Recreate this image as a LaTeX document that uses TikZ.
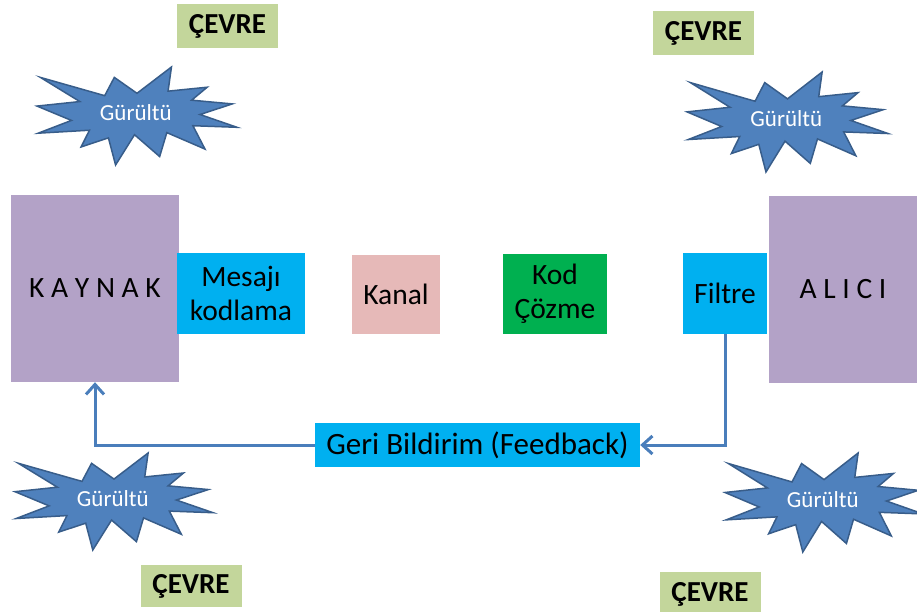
\documentclass[tikz,border=0pt]{standalone}
\usepackage{fontspec}
\setmainfont{Carlito}
\usetikzlibrary{arrows.meta}
\definecolor{mor}{HTML}{B3A2C7}
\definecolor{camgobegi}{HTML}{00B0F0}
\definecolor{pembe}{HTML}{E6B9B8}
\definecolor{yesil}{HTML}{00B050}
\definecolor{cevreyesil}{HTML}{C3D69B}
\definecolor{mavi}{HTML}{4F81BD}
\definecolor{koyumavi}{HTML}{385D8A}
\definecolor{okmavi}{HTML}{4A7EBB}

\tikzset{
  kutu/.style={inner sep=0pt, align=center, font=\fontsize{29.5}{34}\selectfont},
  cevre/.style={fill=cevreyesil, inner sep=0pt, minimum width=101pt, minimum height=44pt,
                font=\bfseries\fontsize{29}{30}\selectfont},
  patlama/.style={fill=mavi, draw=koyumavi, line width=1.5pt, line join=miter},
  gurultuyazi/.style={text=white, font=\fontsize{23}{24}\selectfont},
  geri/.style={draw=okmavi, line width=3pt, -{Straight Barb[length=10pt,width=18pt]}}
}

% Gürültü patlamasi: isim, sol, ust, genislik, yukseklik
\newcommand{\gurultu}[5]{%
  \begin{scope}[shift={(#2,#3)}, xscale=#4, yscale=#5]
    \draw[patlama] (0.5,0.2685) -- (0.6723,0) -- (0.6553,0.2465) -- (0.8509,0.2063)
      -- (0.7732,0.3387) -- (0.9767,0.3767) -- (0.8151,0.4850) -- (1,0.6153)
      -- (0.7795,0.5992) -- (0.8400,0.8377) -- (0.6491,0.6693) -- (0.6133,0.9138)
      -- (0.4876,0.6914) -- (0.3929,1) -- (0.3572,0.7235) -- (0.2205,0.8156)
      -- (0.2624,0.6452) -- (0.00625,0.6753) -- (0.1723,0.5451) -- (0,0.3988)
      -- (0.2142,0.3527) -- (0.0171,0.1063) -- (0.3385,0.2926) -- (0.3867,0.1063) -- cycle;
  \end{scope}
  \node[gurultuyazi] (#1) at ({#2+0.494*#4},{#3+0.469*#5}) {Gürültü};
}

\begin{document}
\begin{tikzpicture}[x=1pt, y=-1pt]
  \clip (0,0) rectangle (917,612);

  % cevre etiketleri
  \node[cevre] (cevre1) at (227.5,26.5) {ÇEVRE};
  \node[cevre] (cevre2) at (703.5,33) {ÇEVRE};
  \node[cevre, minimum height=42pt] (cevre3) at (191,586) {ÇEVRE};
  \node[cevre] (cevre4) at (710,594) {ÇEVRE};

  % gurultu
  \gurultu{gurultu1}{37}{67}{200}{98}
  \gurultu{gurultu2}{687}{72}{201}{100}
  \gurultu{gurultu3}{15}{453}{198}{97}
  \gurultu{gurultu4}{725}{453}{198}{99}

  % iletisim sureci
  \node[kutu, fill=mor, minimum width=168pt, minimum height=187pt] (kaynak) at (95,288.5) {K A Y N A K};
  \node[kutu, fill=camgobegi, minimum width=128pt, minimum height=81pt] (mesaj) at (241,293.5) {Mesajı\\kodlama};
  \node[kutu, fill=pembe, minimum width=88pt, minimum height=79pt] (kanal) at (396,294.5) {Kanal};
  \node[kutu, fill=yesil, minimum width=104pt, minimum height=80pt] (kod) at (555,294) {Kod\\Çözme};
  \node[kutu, fill=mor, minimum width=148pt, minimum height=187pt] (alici) at (843,289.5) {A L I C I};
  \node[kutu, fill=camgobegi, minimum width=84pt, minimum height=81pt] (filtre) at (725,293.5) {Filtre};
  \node[kutu, fill=camgobegi, minimum width=325pt, minimum height=44pt, font=\fontsize{31}{34}\selectfont] (geribildirim) at (477.5,445) {Geri Bildirim (Feedback)};

  \draw[geri] (filtre.south) |- (geribildirim.east);
  \draw[geri] (geribildirim.west) -| (kaynak.south);
\end{tikzpicture}
\end{document}
